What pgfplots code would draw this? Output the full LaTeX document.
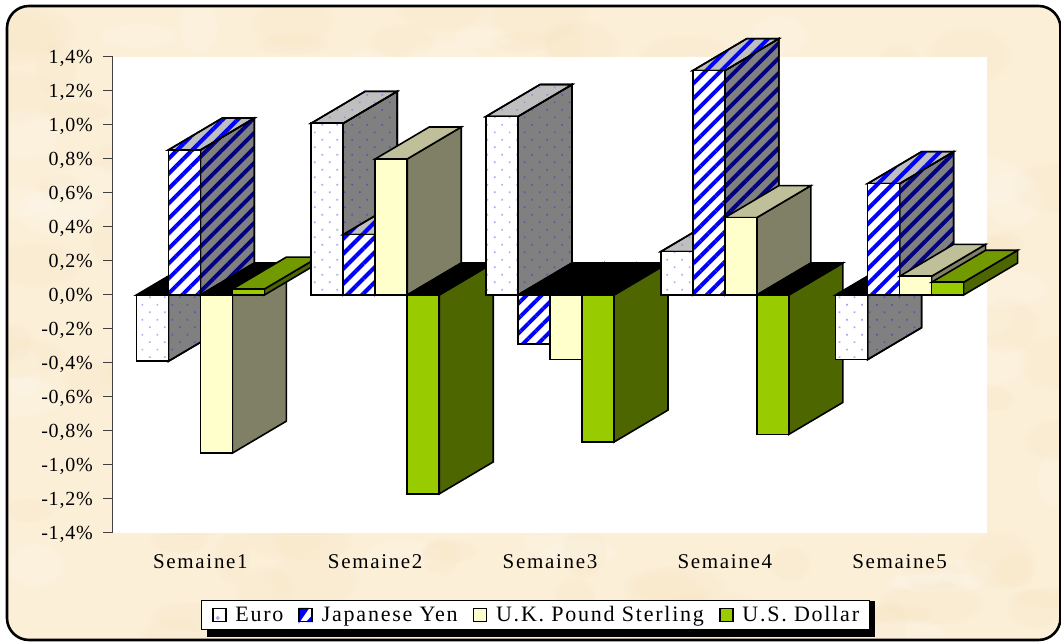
\documentclass[border=0pt]{standalone}
\usepackage{fontspec}
\setmainfont{Liberation Serif}
\usepackage{pgfplots}
\pgfplotsset{compat=1.18}
\usetikzlibrary{patterns.meta,fadings}

% Depth of the pseudo-3D columns, in axis units
\def\barw{0.1831}
\def\depthx{0.309}
\def\depthy{0.188}

\definecolor{parch}{HTML}{FCEFD8}
\definecolor{parchdark}{HTML}{F3DFB6}
\definecolor{dotfront}{HTML}{A8A8F4}
\definecolor{dotside}{HTML}{5656A8}
\definecolor{dottop}{HTML}{9090D8}
\definecolor{ivory}{RGB}{255,255,204}

\tikzset{
  face/.style={draw=black,line width=1.6pt,line join=miter,mark=none},
  dots/.style={preaction={fill=#1},pattern={Dots[angle=45,distance=10.6pt,radius=1.15pt]}},
  stripes/.style={preaction={fill=#1},pattern={Lines[angle=45,distance=10.6pt,line width=4pt]}},
  euro front/.style={face,dots=white,pattern color=dotfront},
  euro side/.style={face,dots=gray,pattern color=dotside},
  euro top/.style={face,dots={black!25},pattern color=dottop},
  yen front/.style={face,stripes=white,pattern color=blue},
  yen side/.style={face,stripes=gray,pattern color={rgb,255:red,0;green,0;blue,128}},
  yen top/.style={face,stripes={black!25},pattern color=blue},
  gbp front/.style={face,fill=ivory},
  gbp side/.style={face,fill={rgb,255:red,128;green,128;blue,102}},
  gbp top/.style={face,fill={rgb,255:red,191;green,191;blue,153}},
  usd front/.style={face,fill={rgb,255:red,153;green,204;blue,0}},
  usd side/.style={face,fill={rgb,255:red,77;green,102;blue,0}},
  usd top/.style={face,fill={rgb,255:red,115;green,153;blue,0}},
}

% #1 week index, #2 position in the cluster (0-3), #3 value in %, #4 series
\newcommand{\column}[4]{%
  \pgfmathsetmacro\xa{#1+(#2-2)*\barw}%
  \pgfmathsetmacro\xb{\xa+\barw}%
  \pgfmathsetmacro\xc{\xa+\depthx}%
  \pgfmathsetmacro\xd{\xb+\depthx}%
  \pgfmathsetmacro\yt{#3+\depthy}%
  \pgfmathparse{#3<0?1:0}%
  \ifnum\pgfmathresult=1\relax
    \edef\drawcol{%
      \noexpand\addplot[forget plot,#4 side] coordinates {(\xb,0) (\xd,\depthy) (\xd,\yt) (\xb,#3)} --cycle;%
      \noexpand\addplot[forget plot,face,fill=black] coordinates {(\xa,0) (\xb,0) (\xd,\depthy) (\xc,\depthy)} --cycle;%
      \noexpand\addplot[forget plot,#4 front] coordinates {(\xa,0) (\xb,0) (\xb,#3) (\xa,#3)} --cycle;%
    }%
  \else
    \edef\drawcol{%
      \noexpand\addplot[forget plot,#4 side] coordinates {(\xb,0) (\xd,\depthy) (\xd,\yt) (\xb,#3)} --cycle;%
      \noexpand\addplot[forget plot,#4 top] coordinates {(\xa,#3) (\xb,#3) (\xd,\yt) (\xc,\yt)} --cycle;%
      \noexpand\addplot[forget plot,#4 front] coordinates {(\xa,0) (\xb,0) (\xb,#3) (\xa,#3)} --cycle;%
    }%
  \fi
  \drawcol
}

\begin{document}
\begin{tikzpicture}
\fill[white] (0pt,0pt) rectangle (1061pt,642pt);

% Parchment panel with soft mottling
\begin{scope}[overlay]
  \fill[parch,rounded corners=22pt] (7pt,2pt) rectangle (1060.5pt,636pt);
  \clip[rounded corners=22pt] (7pt,2pt) rectangle (1060.5pt,636pt);
  \pgfmathsetseed{23}
  \foreach \i in {1,...,170} {
    \pgfmathsetmacro\px{rnd*1061}
    \pgfmathsetmacro\py{rnd*642}
    \pgfmathsetmacro\rx{18+rnd*40}
    \pgfmathsetmacro\ry{10+rnd*20}
    \pgfmathsetmacro\pick{rnd}
    \ifdim\pick pt<0.35pt\def\blot{white}\else\def\blot{parchdark}\fi
    \fill[\blot,opacity=0.14,path fading=circle with fuzzy edge 20 percent]
      (\px pt,\py pt) ellipse ({\rx pt} and {\ry pt});
  }
\end{scope}
\draw[overlay,black,line width=2.6pt,rounded corners=22pt] (7pt,2pt) rectangle (1060.5pt,636pt);

% Hard shadow behind the legend box
\fill[black] (207pt,5pt) rectangle (875pt,41pt);

\begin{axis}[
  at={(113pt,109pt)},anchor=south west,
  scale only axis,width=874pt,height=476pt,
  xmin=-0.5,xmax=4.5,ymin=-1.4,ymax=1.4,
  clip=false,
  axis background/.style={fill=white},
  axis y line*=left,axis x line*=bottom,
  x axis line style={draw=none},
  y axis line style={draw=black!75,line width=1pt,-},
  xtick={0,1,2,3,4},
  xticklabels={Semaine1,Semaine2,Semaine3,Semaine4,Semaine5},
  x tick style={draw=none},
  ytick={-1.4,-1.2,-1,-0.8,-0.6,-0.4,-0.2,0,0.2,0.4,0.6,0.8,1,1.2,1.4},
  yticklabels={{-1,4\%},{-1,2\%},{-1,0\%},{-0,8\%},{-0,6\%},{-0,4\%},{-0,2\%},{0,0\%},{0,2\%},{0,4\%},{0,6\%},{0,8\%},{1,0\%},{1,2\%},{1,4\%}},
  y tick style={draw=black!75,line width=1pt},
  major tick length=10pt,
  tick align=outside,
  yticklabel style={font=\fontsize{20}{22}\selectfont\addfontfeature{LetterSpace=4},inner sep=0pt,xshift=-10pt,yshift=-1.5pt},
  xticklabel style={font=\fontsize{21}{23}\selectfont\addfontfeature{LetterSpace=8},yshift=-8pt},
  legend columns=4,
  legend cell align=left,
  legend style={
    at={(0.4834,-0.1723)},anchor=center,
    draw=black,line width=1.2pt,fill=white,
    font=\fontsize{22}{24}\selectfont\addfontfeature{LetterSpace=8},
    inner xsep=10pt,inner ysep=6.5pt,
    nodes={inner sep=0pt},
    /tikz/every even column/.append style={column sep=15pt},
  },
]
% Weekly variation of each currency, drawn left to right so nearer faces overlap
\column{0}{0}{-0.39}{euro}
\column{0}{1}{0.853}{yen}
\column{0}{2}{-0.93}{gbp}
\column{0}{3}{0.035}{usd}

\column{1}{0}{1.01}{euro}
\column{1}{1}{0.355}{yen}
\column{1}{2}{0.80}{gbp}
\column{1}{3}{-1.17}{usd}

\column{2}{0}{1.05}{euro}
\column{2}{1}{-0.29}{yen}
\column{2}{2}{-0.38}{gbp}
\column{2}{3}{-0.865}{usd}

\column{3}{0}{0.255}{euro}
\column{3}{1}{1.32}{yen}
\column{3}{2}{0.455}{gbp}
\column{3}{3}{-0.82}{usd}

\column{4}{0}{-0.38}{euro}
\column{4}{1}{0.655}{yen}
\column{4}{2}{0.11}{gbp}
\column{4}{3}{0.075}{usd}

\addlegendimage{legend image code/.code={\draw[line width=1.8pt,fill=white] (0pt,-6.5pt) rectangle (13pt,6.5pt); \fill[dotfront] (5pt,-3pt) circle (1.2pt); \path (22pt,0pt);}}
\addlegendentry{Euro}
\addlegendimage{legend image code/.code={\fill[white] (0pt,-6.5pt) rectangle (13pt,6.5pt); \fill[blue] (0pt,-6.5pt) -- (0pt,6.5pt) -- (9pt,6.5pt) -- cycle; \fill[blue] (13pt,-6.5pt) -- (13pt,-1pt) -- (8pt,-6.5pt) -- cycle; \draw[line width=1.8pt] (0pt,-6.5pt) rectangle (13pt,6.5pt); \path (22pt,0pt);}}
\addlegendentry{Japanese Yen}
\addlegendimage{legend image code/.code={\draw[line width=1.8pt,fill=ivory] (0pt,-6.5pt) rectangle (13pt,6.5pt); \path (22pt,0pt);}}
\addlegendentry{U.K. Pound Sterling}
\addlegendimage{legend image code/.code={\draw[line width=1.8pt,fill={rgb,255:red,153;green,204;blue,0}] (0pt,-6.5pt) rectangle (13pt,6.5pt); \path (22pt,0pt);}}
\addlegendentry{U.S. Dollar}
\end{axis}
\end{tikzpicture}
\end{document}
